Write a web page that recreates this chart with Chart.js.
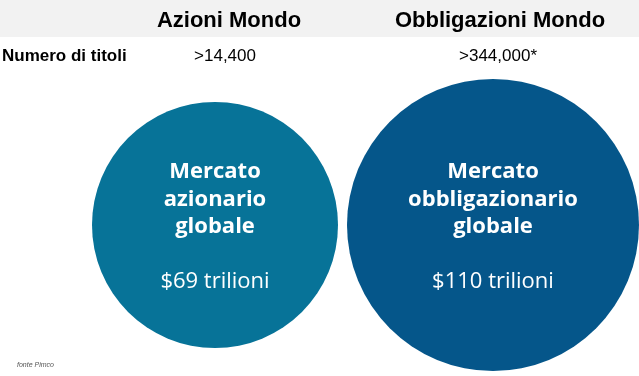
<!DOCTYPE html>
<html>
<head>
<meta charset="utf-8">
<script src="https://cdn.jsdelivr.net/npm/chart.js@4"></script>
<style>
    html, body { margin: 0; padding: 0; background: #fff; overflow: hidden; }
    canvas { display: block; }
</style>
</head>
<body>
<canvas id="markets-chart" width="639" height="376"></canvas>
<script>
// Data
const columns = ['Azioni Mondo', 'Obbligazioni Mondo'];
const securitiesCount = ['>14,400', '>344,000*'];
const marketNames = [
    ['Mercato', 'azionario', 'globale'],
    ['Mercato', 'obbligazionario', 'globale']
];
const marketValues = [69, 110]; // trillion USD
const valueLabels = ['$69 trilioni', '$110 trilioni'];
const bubbleColors = ['#077398', '#05568a'];

// bubble sizes in px (the slide does not scale them strictly by value)
const bubbleRadius = [123, 146];

const headerX = [229, 500];
const countX = [225, 498];

const slideText = {
    id: 'slideText',
    beforeDatasetsDraw(chart) {
        const { ctx, width } = chart;
        ctx.save();
        ctx.fillStyle = '#f2f2f2';
        ctx.fillRect(0, 0, width, 37);

        ctx.fillStyle = '#000';
        ctx.textAlign = 'center';
        ctx.textBaseline = 'alphabetic';
        ctx.font = 'bold 22px "Liberation Sans", Arial, sans-serif';
        columns.forEach((c, i) => ctx.fillText(c, headerX[i], 27));

        ctx.font = 'bold 17px "Liberation Sans", Arial, sans-serif';
        ctx.textAlign = 'left';
        ctx.fillText('Numero di titoli', 2, 61);

        ctx.font = '17px "Liberation Sans", Arial, sans-serif';
        ctx.textAlign = 'center';
        securitiesCount.forEach((s, i) => ctx.fillText(s, countX[i], 61));

        ctx.font = 'italic 7px "Liberation Sans", Arial, sans-serif';
        ctx.fillStyle = '#555';
        ctx.textAlign = 'left';
        ctx.fillText('fonte Pimco', 17, 367);
        ctx.restore();
    },
    afterDatasetsDraw(chart) {
        const { ctx } = chart;
        const meta = chart.getDatasetMeta(0);
        ctx.save();
        ctx.fillStyle = '#fff';
        ctx.textAlign = 'center';
        ctx.textBaseline = 'middle';
        meta.data.forEach((pt, i) => {
            ctx.font = 'bold 22px "Open Sans", "Noto Sans", sans-serif';
            marketNames[i].forEach((line, j) => {
                ctx.fillText(line, pt.x, pt.y - 53 + j * 27.5);
            });
            ctx.font = '22px "Open Sans", "Noto Sans", sans-serif';
            ctx.fillText(valueLabels[i], pt.x, pt.y + 57);
        });
        ctx.restore();
    }
};

new Chart(document.getElementById('markets-chart'), {
    type: 'bubble',
    data: {
        datasets: [{
            label: 'Mercato globale',
            data: marketValues.map((v, i) => ({ x: i, y: 0, value: v })),
            backgroundColor: bubbleColors,
            borderWidth: 0,
            radius: ctx => bubbleRadius[ctx.dataIndex],
            hoverRadius: 0,
            clip: false
        }]
    },
    options: {
        responsive: false,
        animation: false,
        layout: { padding: 0, autoPadding: false },
        plugins: { legend: { display: false }, tooltip: { enabled: false } },
        scales: {
            x: { type: 'linear', min: -0.7734, max: 1.5252, display: false },
            y: { type: 'linear', min: -1, max: 1.49, display: false }
        }
    },
    plugins: [slideText]
});
</script>
</body>
</html>
